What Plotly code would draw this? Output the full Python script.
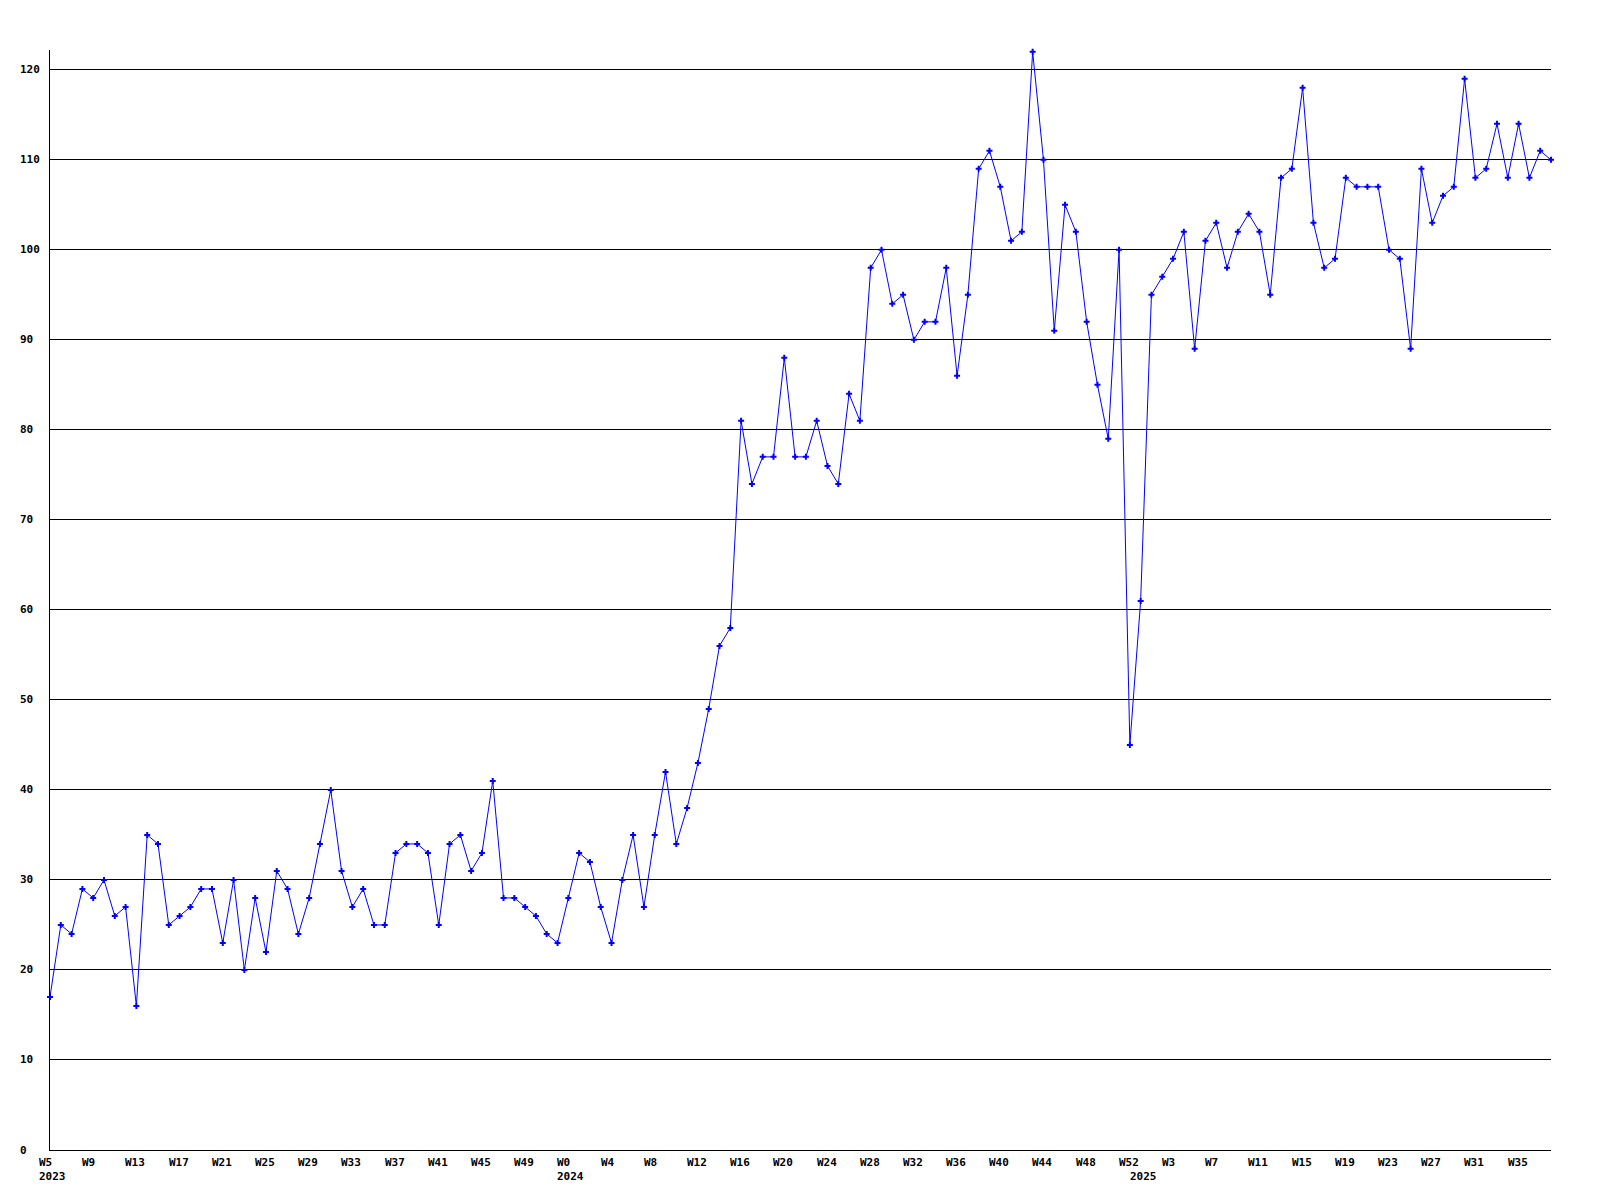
import plotly.graph_objects as go

# weekly counts
weeks_2023 = list(range(5, 53))
values_2023 = [17, 25, 24, 29, 28, 30, 26, 27, 16, 35, 34, 25, 26, 27, 29, 29,
               23, 30, 20, 28, 22, 31, 29, 24, 28, 34, 40, 31, 27, 29, 25, 25,
               33, 34, 34, 33, 25, 34, 35, 31, 33, 41, 28, 28, 27, 26, 24, 23]

weeks_2024 = list(range(0, 53))
values_2024 = [28, 33, 32, 27, 23, 30, 35, 27, 35, 42, 34, 38, 43, 49, 56, 58,
               81, 74, 77, 77, 88, 77, 77, 81, 76, 74, 84, 81, 98, 100, 94, 95,
               90, 92, 92, 98, 86, 95, 109, 111, 107, 101, 102, 122, 110, 91, 105, 102,
               92, 85, 79, 100, 45]

weeks_2025 = list(range(0, 39))
values_2025 = [61, 95, 97, 99, 102, 89, 101, 103, 98, 102, 104, 102, 95, 108, 109, 118,
               103, 98, 99, 108, 107, 107, 107, 100, 99, 89, 109, 103, 106, 107, 119, 108,
               109, 114, 108, 114, 108, 111, 110]

years = [2023, 2024, 2025]
y_ticks = [0, 10, 20, 30, 40, 50, 60, 70, 80, 90, 100, 110, 120]

weeks = weeks_2023 + weeks_2024 + weeks_2025
values = values_2023 + values_2024 + values_2025
x = list(range(len(values)))
year_start = [0, len(weeks_2023), len(weeks_2023) + len(weeks_2024)]

label_font = dict(family="DejaVu Sans Mono", size=11, color="black", weight="bold")

fig = go.Figure()
fig.add_trace(go.Scatter(
    x=x, y=values, mode="lines+markers",
    line=dict(color="#0000ff", width=1),
    marker=dict(symbol="cross", size=5, color="#0000ff", line=dict(width=0)),
    cliponaxis=False, showlegend=False,
))

annotations = []
# week labels every 4 points, left aligned just before the point
for i in range(0, len(x), 4):
    annotations.append(dict(
        x=i, y=0, xref="x", yref="paper", text=f"W{weeks[i]}",
        xanchor="left", yanchor="middle", xshift=-13, yshift=-12,
        showarrow=False, font=label_font,
    ))
for yr, i in zip(years, year_start):
    annotations.append(dict(
        x=i, y=0, xref="x", yref="paper", text=str(yr),
        xanchor="left", yanchor="middle", xshift=-13, yshift=-26,
        showarrow=False, font=label_font,
    ))
for v in y_ticks:
    annotations.append(dict(
        x=0, y=v, xref="paper", yref="y", text=str(v),
        xanchor="left", yanchor="middle", xshift=-32,
        showarrow=False, font=label_font,
    ))

# the page adds an 8px body margin, so the figure is a bit smaller than the window
fig.update_layout(
    width=1584, height=1184,
    margin=dict(l=42, r=41, t=42, b=42),
    paper_bgcolor="white", plot_bgcolor="white",
    annotations=annotations,
)
fig.update_xaxes(
    range=[0, len(x) - 1], showgrid=False, zeroline=False,
    showline=True, linecolor="black", linewidth=1,
    showticklabels=False, ticks="",
)
fig.update_yaxes(
    range=[0, 122.2], tickvals=y_ticks, showgrid=True, gridcolor="black", gridwidth=1,
    zeroline=False, showline=True, linecolor="black", linewidth=1,
    showticklabels=False, ticks="",
)

fig.write_html("out.html")
